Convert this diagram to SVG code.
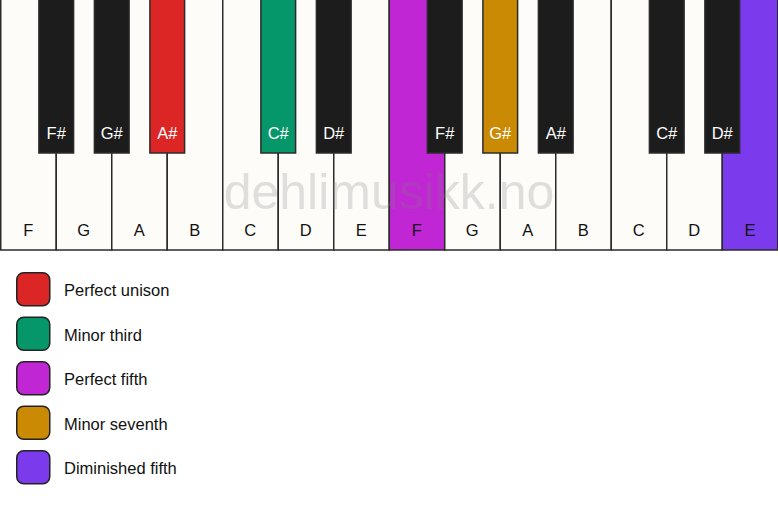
<svg xmlns="http://www.w3.org/2000/svg" width="778" height="506" viewBox="0 0 778 506">
<style>
.w{fill:#fdfcf9;stroke:#2b2b2b;stroke-width:1.5}
.b{fill:#1c1c1c;stroke:#2b2b2b;stroke-width:1.5}
.wl{font-family:"Liberation Sans",Arial,sans-serif;font-size:16.5px;fill:#111;text-anchor:middle}
.bl{font-family:"Liberation Sans",Arial,sans-serif;font-size:16.5px;fill:#fff;text-anchor:middle}
.lg{stroke:#222;stroke-width:1.5}
.lt{font-family:"Liberation Sans",Arial,sans-serif;font-size:16.5px;fill:#111}
.wm{font-family:"Liberation Sans",Arial,sans-serif;font-size:50px;fill:#808080;fill-opacity:0.24;text-anchor:middle}
</style>
<rect width="778" height="506" fill="#ffffff"/>
<g id="white-keys">
<g id="wk-F1"><rect class="w" x="0.75" y="-2" width="55.5" height="252"/><text class="wl" x="28.25" y="236">F</text></g>
<g id="wk-G1"><rect class="w" x="56.25" y="-2" width="55.5" height="252"/><text class="wl" x="83.75" y="236">G</text></g>
<g id="wk-A1"><rect class="w" x="111.75" y="-2" width="55.5" height="252"/><text class="wl" x="139.25" y="236">A</text></g>
<g id="wk-B1"><rect class="w" x="167.25" y="-2" width="55.5" height="252"/><text class="wl" x="194.75" y="236">B</text></g>
<g id="wk-C1"><rect class="w" x="222.75" y="-2" width="55.5" height="252"/><text class="wl" x="250.25" y="236">C</text></g>
<g id="wk-D1"><rect class="w" x="278.25" y="-2" width="55.5" height="252"/><text class="wl" x="305.75" y="236">D</text></g>
<g id="wk-E1"><rect class="w" x="333.75" y="-2" width="55.5" height="252"/><text class="wl" x="361.25" y="236">E</text></g>
<g id="wk-F2"><rect class="w" x="389.25" y="-2" width="55.5" height="252" style="fill:#c026d3"/><text class="wl" x="416.75" y="236">F</text></g>
<g id="wk-G2"><rect class="w" x="444.75" y="-2" width="55.5" height="252"/><text class="wl" x="472.25" y="236">G</text></g>
<g id="wk-A2"><rect class="w" x="500.25" y="-2" width="55.5" height="252"/><text class="wl" x="527.75" y="236">A</text></g>
<g id="wk-B2"><rect class="w" x="555.75" y="-2" width="55.5" height="252"/><text class="wl" x="583.25" y="236">B</text></g>
<g id="wk-C2"><rect class="w" x="611.25" y="-2" width="55.5" height="252"/><text class="wl" x="638.75" y="236">C</text></g>
<g id="wk-D2"><rect class="w" x="666.75" y="-2" width="55.5" height="252"/><text class="wl" x="694.25" y="236">D</text></g>
<g id="wk-E2"><rect class="w" x="722.25" y="-2" width="55.5" height="252" style="fill:#7c3aed"/><text class="wl" x="750" y="236">E</text></g>
</g>
<g id="black-keys">
<g id="bk-Fs1"><rect class="b" x="38.9" y="-2" width="34.7" height="155"/><text class="bl" x="56.25" y="139">F#</text></g>
<g id="bk-Gs1"><rect class="b" x="94.4" y="-2" width="34.7" height="155"/><text class="bl" x="111.75" y="139">G#</text></g>
<g id="bk-As1"><rect class="b" x="149.9" y="-2" width="34.7" height="155" style="fill:#dc2626"/><text class="bl" x="167.25" y="139">A#</text></g>
<g id="bk-Cs1"><rect class="b" x="260.9" y="-2" width="34.7" height="155" style="fill:#059669"/><text class="bl" x="278.25" y="139">C#</text></g>
<g id="bk-Ds1"><rect class="b" x="316.4" y="-2" width="34.7" height="155"/><text class="bl" x="333.75" y="139">D#</text></g>
<g id="bk-Fs2"><rect class="b" x="427.4" y="-2" width="34.7" height="155"/><text class="bl" x="444.75" y="139">F#</text></g>
<g id="bk-Gs2"><rect class="b" x="482.9" y="-2" width="34.7" height="155" style="fill:#ca8a04"/><text class="bl" x="500.25" y="139">G#</text></g>
<g id="bk-As2"><rect class="b" x="538.4" y="-2" width="34.7" height="155"/><text class="bl" x="555.75" y="139">A#</text></g>
<g id="bk-Cs2"><rect class="b" x="649.4" y="-2" width="34.7" height="155"/><text class="bl" x="666.75" y="139">C#</text></g>
<g id="bk-Ds2"><rect class="b" x="704.9" y="-2" width="34.7" height="155"/><text class="bl" x="722.25" y="139">D#</text></g>
</g>
<text class="wm" x="389" y="209">dehlimusikk.no</text>
<g id="legend">
<g id="lg-unison"><rect class="lg" x="16.75" y="272.75" width="33" height="33" rx="7" fill="#dc2626"/><text class="lt" x="64" y="296">Perfect unison</text></g>
<g id="lg-minor-third"><rect class="lg" x="16.75" y="317.25" width="33" height="33" rx="7" fill="#059669"/><text class="lt" x="64" y="340.5">Minor third</text></g>
<g id="lg-perfect-fifth"><rect class="lg" x="16.75" y="361.75" width="33" height="33" rx="7" fill="#c026d3"/><text class="lt" x="64" y="385">Perfect fifth</text></g>
<g id="lg-minor-seventh"><rect class="lg" x="16.75" y="406.25" width="33" height="33" rx="7" fill="#ca8a04"/><text class="lt" x="64" y="429.5">Minor seventh</text></g>
<g id="lg-dim-fifth"><rect class="lg" x="16.75" y="450.75" width="33" height="33" rx="7" fill="#7c3aed"/><text class="lt" x="64" y="474">Diminished fifth</text></g>
</g>
<g id="connectors"/>
</svg>
